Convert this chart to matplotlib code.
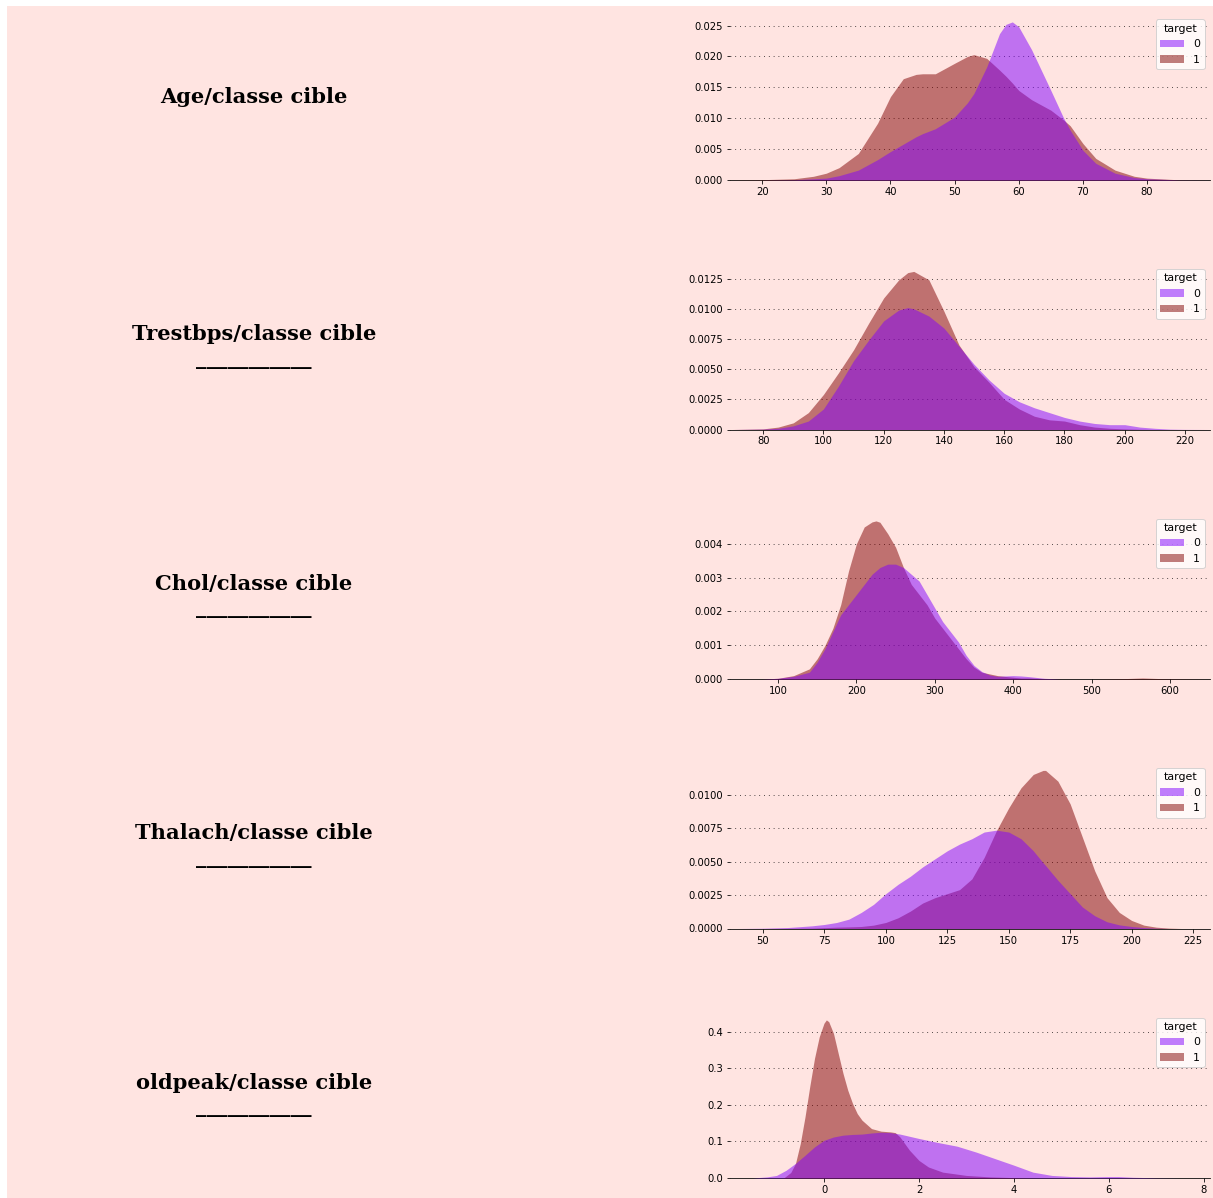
import matplotlib
matplotlib.use("Agg")
import matplotlib.pyplot as plt
from matplotlib.patches import Patch, Rectangle

# values (kde curves, density per class)
age_x = [15, 20, 25, 28, 30, 32, 35, 38, 40, 42, 44, 45, 47, 50, 52, 53, 55, 57, 58, 59, 60, 62, 65, 67, 68, 70, 72, 75, 78, 80, 85, 90]
age_0 = [0, 0, 0.00005, 0.0002, 0.0003, 0.0007, 0.0016, 0.0033, 0.0046, 0.0058, 0.0070, 0.0075, 0.0083, 0.0102, 0.0125, 0.0140, 0.0183, 0.0237, 0.0252, 0.0256, 0.0248, 0.0211, 0.0145, 0.0100, 0.0081, 0.0048, 0.0027, 0.0011, 0.0004, 0.0002, 0.00002, 0]
age_1 = [0, 0.00005, 0.0002, 0.0006, 0.0011, 0.0020, 0.0043, 0.0092, 0.0135, 0.0164, 0.0171, 0.0172, 0.0172, 0.0189, 0.0200, 0.0203, 0.0197, 0.0178, 0.0168, 0.0157, 0.0145, 0.0130, 0.0113, 0.0097, 0.0088, 0.0059, 0.0035, 0.0016, 0.0006, 0.0003, 0.00003, 0]

trest_x = [70, 80, 85, 90, 95, 100, 105, 110, 115, 120, 125, 128, 130, 135, 140, 145, 150, 155, 160, 165, 170, 175, 180, 185, 190, 195, 200, 205, 210, 215, 220, 228]
trest_0 = [0, 0.00003, 0.0001, 0.0003, 0.0007, 0.0017, 0.0036, 0.0057, 0.0074, 0.0090, 0.0099, 0.0101, 0.0100, 0.0094, 0.0084, 0.0069, 0.0054, 0.0041, 0.0030, 0.0023, 0.0018, 0.0014, 0.0010, 0.0007, 0.0005, 0.0004, 0.0004, 0.0002, 0.0001, 0.00003, 0.00001, 0]
trest_1 = [0, 0.00005, 0.0002, 0.00055, 0.0014, 0.0029, 0.0047, 0.0066, 0.0088, 0.0109, 0.0124, 0.0130, 0.0131, 0.0124, 0.0098, 0.0070, 0.0052, 0.0039, 0.0025, 0.0017, 0.0011, 0.0008, 0.0007, 0.0004, 0.0002, 0.0001, 0.00005, 0.00002, 0, 0, 0, 0]

chol_x = [40, 80, 100, 120, 140, 150, 160, 170, 180, 190, 200, 210, 220, 225, 230, 240, 250, 260, 270, 280, 290, 300, 310, 320, 330, 340, 350, 360, 370, 380, 400, 410, 420, 440, 460, 500, 540, 565, 590, 650]
chol_0 = [0, 0, 0.00002, 0.00008, 0.0002, 0.0005, 0.0009, 0.0014, 0.0019, 0.0022, 0.0025, 0.0028, 0.0031, 0.0032, 0.0033, 0.0034, 0.0034, 0.0033, 0.0031, 0.0029, 0.0025, 0.0021, 0.0017, 0.0014, 0.0011, 0.0007, 0.0004, 0.00022, 0.00012, 0.00008, 0.0001, 0.00009, 0.00007, 0.00002, 0, 0, 0, 0, 0, 0]
chol_1 = [0, 0, 0.00002, 0.0001, 0.0003, 0.0006, 0.0010, 0.0015, 0.0022, 0.0032, 0.0040, 0.0045, 0.00465, 0.00468, 0.00464, 0.0043, 0.0039, 0.0033, 0.0028, 0.0025, 0.0022, 0.0018, 0.0015, 0.0012, 0.0009, 0.0006, 0.00035, 0.0002, 0.00015, 0.0001, 0.00005, 0.00003, 0.00003, 0.00001, 0, 0, 0.00001, 0.00003, 0.00001, 0]

thal_x = [40, 50, 60, 70, 75, 80, 85, 90, 95, 100, 105, 110, 115, 120, 125, 130, 135, 140, 145, 150, 155, 160, 164, 165, 170, 175, 180, 185, 190, 195, 200, 205, 210, 215, 220, 232]
thal_0 = [0, 0.00002, 0.00007, 0.0002, 0.0003, 0.00045, 0.0007, 0.0012, 0.0018, 0.0026, 0.0033, 0.0039, 0.0046, 0.0052, 0.0058, 0.0063, 0.0067, 0.0072, 0.00734, 0.0072, 0.0067, 0.0058, 0.0049, 0.0047, 0.0036, 0.0026, 0.0016, 0.00095, 0.0005, 0.00027, 0.00015, 0.00007, 0.00002, 0, 0, 0]
thal_1 = [0, 0, 0.00001, 0.00003, 0.00006, 0.0001, 0.00012, 0.00015, 0.00025, 0.00045, 0.0008, 0.0013, 0.0019, 0.0023, 0.0026, 0.0029, 0.0037, 0.0053, 0.0073, 0.0090, 0.0105, 0.0115, 0.0118, 0.0118, 0.0110, 0.0093, 0.0068, 0.0043, 0.0023, 0.0012, 0.0006, 0.00025, 0.0001, 0.00003, 0, 0]

old_x0 = [-2.0, -1.5, -1.2, -1.0, -0.8, -0.6, -0.4, -0.2, 0.0, 0.2, 0.4, 0.6, 0.8, 1.0, 1.2, 1.4, 1.6, 1.8, 2.0, 2.4, 2.8, 3.2, 3.6, 4.0, 4.4, 4.8, 5.2, 5.6, 6.0, 6.2, 6.5, 7.0, 7.5, 8.2]
old_0 = [0, 0, 0.003, 0.007, 0.021, 0.040, 0.062, 0.085, 0.103, 0.112, 0.117, 0.119, 0.120, 0.123, 0.125, 0.124, 0.120, 0.114, 0.108, 0.097, 0.087, 0.071, 0.053, 0.035, 0.016, 0.007, 0.004, 0.003, 0.004, 0.004, 0.002, 0.0005, 0, 0]
old_x1 = [-2.0, -0.85, -0.7, -0.6, -0.5, -0.4, -0.3, -0.2, -0.1, 0.0, 0.05, 0.1, 0.2, 0.3, 0.4, 0.5, 0.6, 0.7, 0.8, 1.0, 1.2, 1.4, 1.5, 1.6, 1.8, 2.0, 2.2, 2.5, 3.0, 3.5, 4.0, 4.5, 8.2]
old_1 = [0, 0, 0.015, 0.040, 0.094, 0.167, 0.250, 0.327, 0.386, 0.423, 0.432, 0.427, 0.395, 0.340, 0.286, 0.240, 0.204, 0.176, 0.158, 0.135, 0.128, 0.126, 0.124, 0.112, 0.076, 0.048, 0.030, 0.016, 0.007, 0.003, 0.001, 0, 0]

titles = ["Age/classe cible", "Trestbps/classe cible", "Chol/classe cible", "Thalach/classe cible", "oldpeak/classe cible"]
xticks = [[20, 30, 40, 50, 60, 70, 80], list(range(80, 221, 20)), list(range(100, 601, 100)), list(range(50, 226, 25)), [0, 2, 4, 6, 8]]
yticks = [[0, 0.005, 0.01, 0.015, 0.02, 0.025], [0, 0.0025, 0.005, 0.0075, 0.01, 0.0125], [0, 0.001, 0.002, 0.003, 0.004], [0, 0.0025, 0.005, 0.0075, 0.01], [0, 0.1, 0.2, 0.3, 0.4]]
xlims = [(15.0, 89.8), (69, 228.3), (38.8, 651), (36.6, 231.9), (-1.98, 8.13)]

curves = [
    (age_x, age_0, age_x, age_1),
    (trest_x, trest_0, trest_x, trest_1),
    (chol_x, chol_0, chol_x, chol_1),
    (thal_x, thal_0, thal_x, thal_1),
    (old_x0, old_0, old_x1, old_1),
]

bg = "#ffe4e1"
colors = ["#8000ff", "#800000"]
W, H = 1213, 1198

fig = plt.figure(figsize=(W / 72, H / 72), dpi=72, facecolor="white")
fig.patches.append(Rectangle((7 / W, 0), 1 - 7 / W, 1 - 6 / H, transform=fig.transFigure,
                             facecolor=bg, edgecolor="none", zorder=-1))

for i in range(5):
    bottom_px = 180 + 249.5 * i
    ax = fig.add_axes([730 / W, 1 - bottom_px / H, 480 / W, 166 / H])
    ax.set_facecolor(bg)
    x0, y0, x1, y1 = curves[i]
    # class 1 first so class 0 sits on top
    ax.fill_between(x1, y1, color=colors[1], alpha=0.5, linewidth=0, zorder=3)
    ax.fill_between(x0, y0, color=colors[0], alpha=0.5, linewidth=0, zorder=3)
    ax.set_xlim(*xlims[i])
    ax.set_ylim(0, max(max(y0), max(y1)) * 1.05)
    ax.set_xticks(xticks[i])
    ax.set_yticks(yticks[i])
    ax.tick_params(labelsize=10)
    ax.grid(color="#000000", linestyle=":", axis="y", zorder=0, dashes=(1, 5))
    ax.set_axisbelow(True)
    for s in ["top", "right", "left"]:
        ax.spines[s].set_visible(False)
    handles = [Patch(facecolor=colors[0], alpha=0.5), Patch(facecolor=colors[1], alpha=0.5)]
    ax.legend(handles, ["0", "1"], title="target", loc="upper right", fontsize=11,
              title_fontsize=11, handlelength=2.2)

    label = titles[i] if i == 0 else titles[i] + "\n" + "_" * 11
    fig.text(254 / W, 1 - (bottom_px - 83) / H, label, ha="center", va="center",
             fontsize=21, fontweight="bold", fontfamily="serif", color="#000000")

fig.savefig("out.png", dpi=72, facecolor=fig.get_facecolor())
